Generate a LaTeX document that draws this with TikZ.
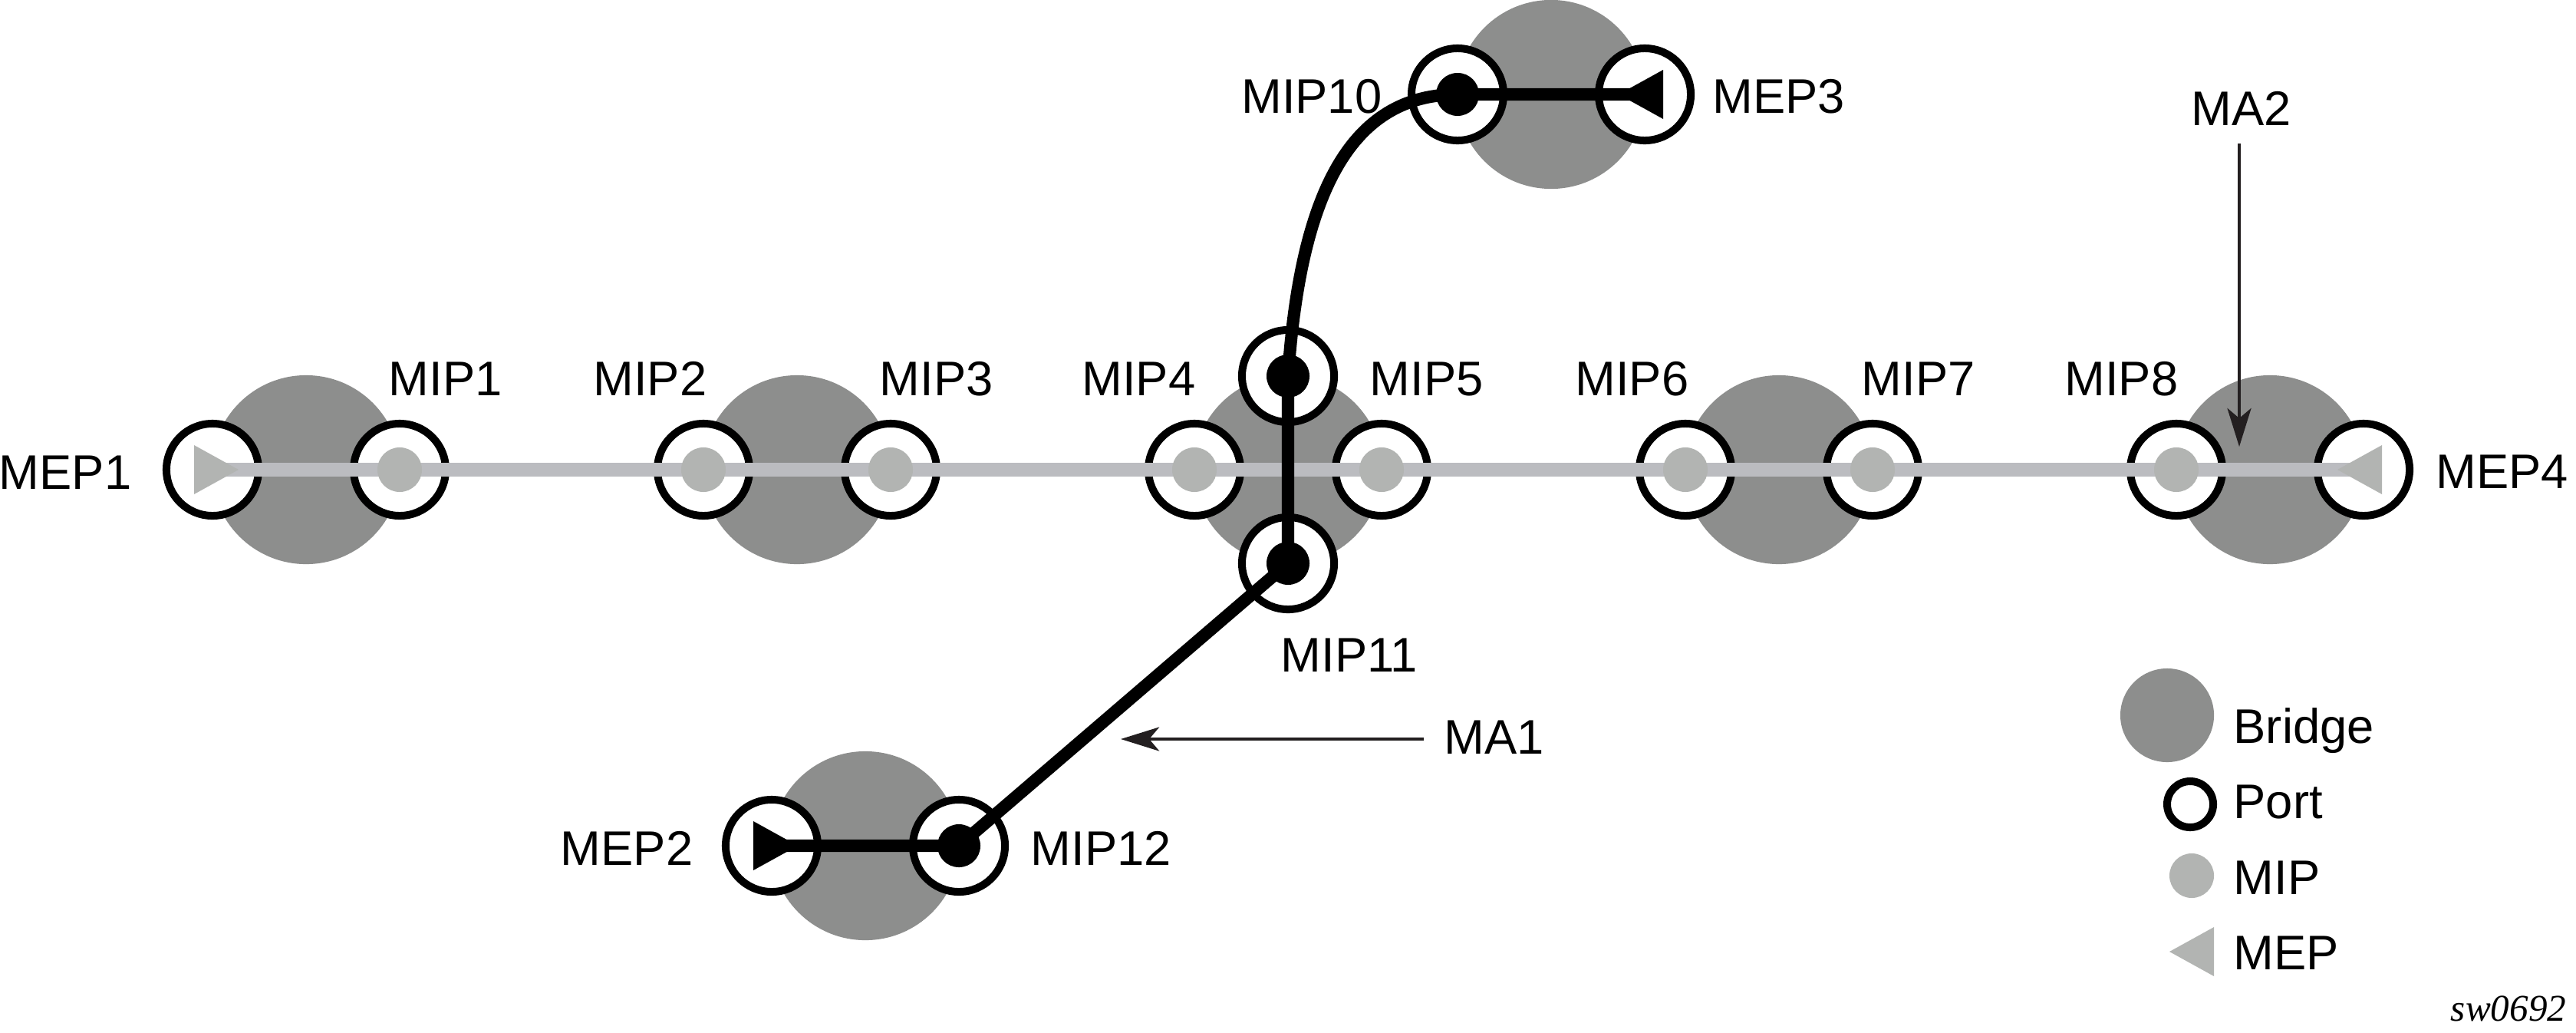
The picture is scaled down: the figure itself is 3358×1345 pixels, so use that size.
\documentclass[tikz,border=0pt]{standalone}
\usepackage{fontspec}
\setmainfont{Liberation Sans}
\newfontfamily\figfont{Liberation Serif}
\usetikzlibrary{arrows.meta,calc}
\definecolor{bridgegray}{RGB}{141,142,141}
\definecolor{mipgray}{RGB}{178,180,178}
\definecolor{linegray}{RGB}{187,188,192}
\definecolor{arrowblack}{RGB}{35,31,32}

\begin{document}
\begin{tikzpicture}[x=0.01cm, y=-0.01cm, bridge/.style = {shape=circle, fill=bridgegray, inner sep=0pt, minimum size=2.46cm}, port/.style = {shape=circle, draw, fill=white, line width=2.85pt, inner sep=0pt, minimum size=1.2cm}, mip/.style = {shape=circle, fill=mipgray, inner sep=0pt, minimum size=0.58cm}, active/.style = {shape=circle, fill=black, inner sep=0pt, minimum size=0.56cm}, tag/.style = {inner sep=0pt, font=\fontsize{18}{20}\selectfont}, grayline/.style = {line width=5pt, linegray}, blackline/.style = {line width=4.6pt, black, line join=round}, pointer/.style = {line width=1.3pt, arrowblack, -{Stealth[length=0.5cm, width=0.31cm, inset=0.13cm]}}]
	\useasboundingbox (0,0) rectangle (3358,1345);

	\node[bridge] (b1) at (399,612) {};
	\node[bridge] (b2) at (1039,612) {};
	\node[bridge] (b3) at (1679,612) {};
	\node[bridge] (b4) at (2319,612) {};
	\node[bridge] (b5) at (2959,612) {};
	\node[bridge] (b6) at (2022,123) {};
	\node[bridge] (b7) at (1128,1102) {};

	\node[port] (mep1) at (277,612) {};
	\node[port] (mip1) at (521,612) {};
	\node[port] (mip2) at (917,612) {};
	\node[port] (mip3) at (1161,612) {};
	\node[port] (mip4) at (1557,612) {};
	\node[port] (mip5) at (1801,612) {};
	\node[port] (mip6) at (2197,612) {};
	\node[port] (mip7) at (2441,612) {};
	\node[port] (mip8) at (2837,612) {};
	\node[port] (mep4) at (3081,612) {};
	\node[port] (mip9) at (1679,490) {};
	\node[port] (mip11) at (1679,734) {};
	\node[port] (mip10) at (1900,123) {};
	\node[port] (mep3) at (2144,123) {};
	\node[port] (mep2) at (1006,1102) {};
	\node[port] (mip12) at (1250,1102) {};

	\draw[grayline] (mep1.center) -- (mep4.center);
	\node[mip] (mip1d) at (mip1) {};
	\node[mip] (mip2d) at (mip2) {};
	\node[mip] (mip3d) at (mip3) {};
	\node[mip] (mip4d) at (mip4) {};
	\node[mip] (mip5d) at (mip5) {};
	\node[mip] (mip6d) at (mip6) {};
	\node[mip] (mip7d) at (mip7) {};
	\node[mip] (mip8d) at (mip8) {};
	\fill[mipgray] ($(mep1)+(-24,-32)$) -- ($(mep1)+(34,0)$) -- ($(mep1)+(-24,32)$) -- cycle;
	\fill[mipgray] ($(mep4)+(24,-32)$) -- ($(mep4)+(-34,0)$) -- ($(mep4)+(24,32)$) -- cycle;

	\draw[blackline] (mep2.center) -- (mip12.center) -- (mip11.center) -- (mip9.center) .. controls +(16,-239) and +(-139,0) .. (mip10.center) -- (mep3.center);
	\node[active] (mip9d) at (mip9) {};
	\node[active] (mip10d) at (mip10) {};
	\node[active] (mip11d) at (mip11) {};
	\node[active] (mip12d) at (mip12) {};
	\fill[black] ($(mep2)+(-24,-32)$) -- ($(mep2)+(34,0)$) -- ($(mep2)+(-24,32)$) -- cycle;
	\fill[black] ($(mep3)+(24,-32)$) -- ($(mep3)+(-34,0)$) -- ($(mep3)+(24,32)$) -- cycle;

	\node[tag, anchor=base east] (lmep1) at (172,637) {MEP1};
	\node[tag, anchor=base west] (lmip1) at (506,515) {MIP1};
	\node[tag, anchor=base east] (lmip2) at (922,515) {MIP2};
	\node[tag, anchor=base west] (lmip3) at (1146,515) {MIP3};
	\node[tag, anchor=base east] (lmip4) at (1559,515) {MIP4};
	\node[tag, anchor=base west] (lmip5) at (1785,515) {MIP5};
	\node[tag, anchor=base east] (lmip6) at (2202,515) {MIP6};
	\node[tag, anchor=base west] (lmip7) at (2426,515) {MIP7};
	\node[tag, anchor=base east] (lmip8) at (2840,515) {MIP8};
	\node[tag, anchor=base west] (lmep4) at (3175,636) {MEP4};
	\node[tag, anchor=base east] (lmip10) at (1802,147) {MIP10};
	\node[tag, anchor=base west] (lmep3) at (2232,147) {MEP3};
	\node[tag, anchor=base west] (lmip11) at (1669,875) {MIP11};
	\node[tag, anchor=base east] (lmep2) at (904,1127) {MEP2};
	\node[tag, anchor=base west] (lmip12) at (1343,1127) {MIP12};

	\node[tag, anchor=base west] (ma1) at (1882,982) {MA1};
	\node[tag, anchor=base] (ma2) at (2922,163) {MA2};
	\coordinate (ma1tail) at (1856,963);
	\coordinate (ma1tip) at (1461,963);
	\coordinate (ma2tail) at (2919,187);
	\coordinate (ma2tip) at (2919,582);
	\draw[pointer] (ma1tail) -- (ma1tip);
	\draw[pointer] (ma2tail) -- (ma2tip);

	\node[shape=circle, fill=bridgegray, inner sep=0pt, minimum size=1.22cm] (keybridge) at (2825,932) {};
	\node[port, minimum size=0.6cm] (keyport) at (2855,1048) {};
	\node[mip] (keymip) at (2857,1141) {};
	\coordinate (keymep) at (2857,1240);
	\fill[mipgray] ($(keymep)+(29,-32)$) -- ($(keymep)+(-29,0)$) -- ($(keymep)+(29,32)$) -- cycle;
	\node[tag, anchor=base west] (lbridge) at (2911,968) {Bridge};
	\node[tag, anchor=base west] (lport) at (2911,1066) {Port};
	\node[tag, anchor=base west] (lmip) at (2911,1165) {MIP};
	\node[tag, anchor=base west] (lmep) at (2911,1263) {MEP};

	\node[anchor=base east, inner sep=0pt, font=\figfont\itshape\fontsize{14}{16}\selectfont] (fig) at (3346,1330) {sw0692};
\end{tikzpicture}
\end{document}
